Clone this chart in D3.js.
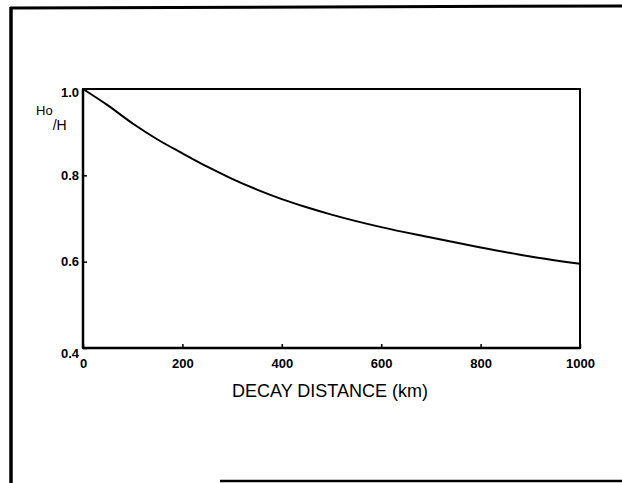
<!DOCTYPE html>
<html>
<head>
<meta charset="utf-8">
<script src="https://cdn.jsdelivr.net/npm/d3@7"></script>
<style>
  html, body { margin: 0; padding: 0; background: #fff; }
  svg { display: block; }
  text { font-family: "Liberation Sans", Arial, sans-serif; fill: #000; }
</style>
</head>
<body>
<svg id="chart" width="622" height="483"></svg>
<script>
// Data
const distanceKm = [0, 50, 100, 150, 200, 250, 300, 350, 400, 450, 500, 600, 700, 800, 900, 1000];
const ratioHoH   = [1.0, 0.962, 0.92, 0.883, 0.851, 0.82, 0.792, 0.767, 0.745, 0.726, 0.709, 0.680, 0.656, 0.633, 0.612, 0.595];
const xTicks = [0, 200, 400, 600, 800, 1000];
const yTicks = [0.4, 0.6, 0.8, 1.0];
const xTitle = "DECAY DISTANCE (km)";

const svg = d3.select("#chart");
svg.append("rect").attr("width", 622).attr("height", 483).attr("fill", "#fff");

// Outer page frame (scanned figure border)
const frame = svg.append("g").attr("stroke", "#000").attr("fill", "none");
frame.append("line").attr("x1", 10).attr("y1", 8).attr("x2", 622).attr("y2", 6).attr("stroke-width", 3);
frame.append("line").attr("x1", 11).attr("y1", 7).attr("x2", 11).attr("y2", 483).attr("stroke-width", 3.5);
frame.append("line").attr("x1", 220).attr("y1", 481).attr("x2", 622).attr("y2", 481).attr("stroke-width", 2.5);

const x = d3.scaleLinear().domain([0, 1000]).range([83, 580]);
const y = d3.scaleLinear().domain([0.4, 1.0]).range([348, 89]);

// Plot box
svg.append("rect")
  .attr("x", x(0)).attr("y", y(1.0))
  .attr("width", x(1000) - x(0)).attr("height", y(0.4) - y(1.0))
  .attr("fill", "none").attr("stroke", "#000").attr("stroke-width", 2);

// Axes
const xAxis = d3.axisBottom(x).tickValues(xTicks).tickSize(-4).tickPadding(11)
  .tickFormat(d3.format("d"));
const gx = svg.append("g").attr("transform", `translate(0,${y(0.4)})`).call(xAxis);
gx.select(".domain").remove();
gx.selectAll("line").attr("stroke", "#000").attr("stroke-width", 1.5);
gx.selectAll("text").attr("font-size", 13).attr("font-weight", "bold")
  .style("font-family", "'Liberation Sans', Arial, sans-serif");

const yAxis = d3.axisLeft(y).tickValues(yTicks).tickSize(-4).tickPadding(4)
  .tickFormat(d3.format(".1f"));
const gy = svg.append("g").attr("transform", `translate(${x(0)},0)`).call(yAxis);
gy.select(".domain").remove();
gy.selectAll("line").attr("stroke", "#000").attr("stroke-width", 1.5);
gy.selectAll("text").attr("font-size", 13).attr("font-weight", "bold")
  .style("font-family", "'Liberation Sans', Arial, sans-serif");
gy.selectAll(".tick").filter(d => d === 0.4).select("text").attr("dy", "0.7em");
gy.selectAll(".tick").filter(d => d === 1.0).select("text").attr("dy", "0.55em");

// Thicker left/bottom axis lines
svg.append("line").attr("x1", x(0)).attr("x2", x(0)).attr("y1", y(1.0)).attr("y2", y(0.4))
  .attr("stroke", "#000").attr("stroke-width", 2.5);
svg.append("line").attr("x1", x(0)).attr("x2", x(1000)).attr("y1", y(0.4)).attr("y2", y(0.4))
  .attr("stroke", "#000").attr("stroke-width", 2.5);

// Curve
const line = d3.line().x((d, i) => x(distanceKm[i])).y(d => y(d)).curve(d3.curveMonotoneX);
svg.append("path").datum(ratioHoH)
  .attr("d", line).attr("fill", "none").attr("stroke", "#000").attr("stroke-width", 2);

// Y axis label Ho/H (slanted fraction)
const yl = svg.append("text").attr("font-size", 13).attr("x", 36).attr("y", 115);
yl.append("tspan").text("Ho");
yl.append("tspan").attr("dx", 0).attr("dy", 15).attr("font-size", 14).text("/H");

// X axis title
svg.append("text").attr("x", 330).attr("y", 397).attr("text-anchor", "middle")
  .attr("font-size", 18).text(xTitle);
</script>
</body>
</html>
